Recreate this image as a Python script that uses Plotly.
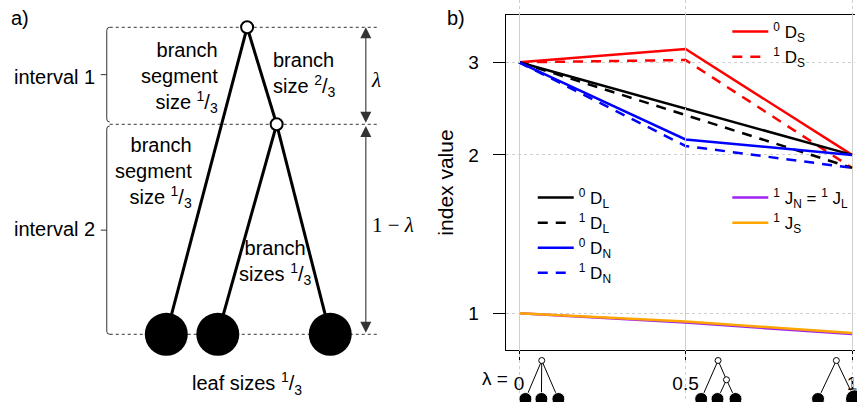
import plotly.graph_objects as go

W, H = 857, 402
FONT = "Liberation Sans, Arial, sans-serif"
SERIF = "Liberation Serif, DejaVu Serif, serif"

# ---------------- panel b data ----------------
lam = [0, 0.5, 1]
D0_S = [3.0, 3.18, 2.0]
D1_S = [3.0, 3.03, 1.89]
D0_L = [3.0, 2.45, 2.0]
D1_L = [3.0, 2.38, 1.89]
D0_N = [3.0, 2.14, 2.0]
D1_N = [3.0, 2.08, 1.89]
J1_NL = [1.0, 0.960, 0.913]
J1_S = [1.0, 0.965, 0.917]
x_ticks = [0, 0.5, 1]
x_tick_text = ["0", "0.5", "1"]
y_ticks = [1, 2, 3]
y_tick_text = ["1", "2", "3"]

# ---------------- panel a tree (diagram units: x horizontal, h = height) ----------------
lam_a = 0.316
leaf_x = [166.7, 218.3, 331.0]
root_x, root_h = 247.7, 1.0
inner_x, inner_h = 277.3, 1.0 - lam_a

# ---------------- mini trees under the lambda ticks ----------------
mini_lam = [0, 0.5, 1]
mini_leaf_off = [[0.019, 0.067, 0.118], [0.047, 0.096, 0.150], [-0.102, 0.008]]
mini_leaf_w = [[1/3, 1/3, 1/3], [1/3, 1/3, 1/3], [1/3, 2/3]]

fig = go.Figure()

# ---------- panel a ----------
def seg(x0, y0, x1, y1):
    return [x0, x1, None], [y0, y1, None]

tx, ty = [], []
for (a, b, c, d) in [(root_x, root_h, leaf_x[0], 0), (root_x, root_h, inner_x, inner_h),
                     (inner_x, inner_h, leaf_x[1], 0), (inner_x, inner_h, leaf_x[2], 0)]:
    sx, sy = seg(a, b, c, d)
    tx += sx; ty += sy
fig.add_trace(go.Scatter(x=tx, y=ty, mode="lines", line=dict(color="black", width=3),
                         showlegend=False, hoverinfo="skip", xaxis="x", yaxis="y"))
fig.add_trace(go.Scatter(x=leaf_x, y=[0, 0, 0], mode="markers",
                         marker=dict(size=43, color="black", opacity=1), showlegend=False,
                         hoverinfo="skip", xaxis="x", yaxis="y"))
fig.add_trace(go.Scatter(x=[root_x, inner_x], y=[root_h, inner_h], mode="markers",
                         marker=dict(size=12, color="white", opacity=1,
                                     line=dict(color="black", width=2)),
                         showlegend=False, hoverinfo="skip", xaxis="x", yaxis="y"))

# ---------- panel b lines ----------
RED, BLUE, PURPLE, ORANGE = "#FF0000", "#0000FF", "#A020F0", "#FFA500"
DASH = "10px,8px"
series = [
    (D0_S, RED, "solid", "<sup>0</sup> D<sub>S</sub>", "legend"),
    (D1_S, RED, DASH, "<sup>1</sup> D<sub>S</sub>", "legend"),
    (D0_L, "black", "solid", "<sup>0</sup> D<sub>L</sub>", "legend2"),
    (D1_L, "black", DASH, "<sup>1</sup> D<sub>L</sub>", "legend2"),
    (D0_N, BLUE, "solid", "<sup>0</sup> D<sub>N</sub>", "legend2"),
    (D1_N, BLUE, DASH, "<sup>1</sup> D<sub>N</sub>", "legend2"),
    (J1_NL, PURPLE, "solid", "<sup>1</sup> J<sub>N</sub> = <sup>1</sup> J<sub>L</sub>", "legend3"),
    (J1_S, ORANGE, "solid", "<sup>1</sup> J<sub>S</sub>", "legend3"),
]
for vals, col, dash, name, lg in series:
    fig.add_trace(go.Scatter(x=lam, y=vals, mode="lines", name=name, legend=lg,
                             line=dict(color=col, width=2.5, dash=dash),
                             hoverinfo="skip", xaxis="x2", yaxis="y2"))

# ---------- mini trees (x in lambda units, y in tree height) ----------
mx, my, lx, ly, ls, ox, oy = [], [], [], [], [], [], []
for L, offs, ws in zip(mini_lam, mini_leaf_off, mini_leaf_w):
    xs = [L + o for o in offs]
    rx = sum(xs) / len(xs)
    ox.append(rx); oy.append(1.0)
    if len(xs) == 3 and 0 < L < 1:
        ix = (xs[1] + xs[2]) / 2
        ih = 1 - L
        edges = [(rx, 1, xs[0], 0), (rx, 1, ix, ih), (ix, ih, xs[1], 0), (ix, ih, xs[2], 0)]
        ox.append(ix); oy.append(ih)
    else:
        edges = [(rx, 1, x, 0) for x in xs]
    for e in edges:
        sx, sy = seg(*e)
        mx += sx; my += sy
    for x, w in zip(xs, ws):
        lx.append(x); ly.append(0); ls.append(13 * (3 * w) ** 0.5)
fig.add_trace(go.Scatter(x=mx, y=my, mode="lines", line=dict(color="black", width=1),
                         showlegend=False, hoverinfo="skip", xaxis="x2", yaxis="y3"))
fig.add_trace(go.Scatter(x=lx, y=ly, mode="markers",
                         marker=dict(size=ls, color="black", opacity=1),
                         showlegend=False, hoverinfo="skip", xaxis="x2", yaxis="y3", cliponaxis=False))
fig.add_trace(go.Scatter(x=ox, y=oy, mode="markers",
                         marker=dict(size=6, color="white", opacity=1,
                                     line=dict(color="black", width=1)),
                         showlegend=False, hoverinfo="skip", xaxis="x2", yaxis="y3", cliponaxis=False))

# ---------- panel a decorations ----------
def Hh(py):
    return (334.3 - py) / 307.0

shapes = []
for h in [1.0, inner_h, 0.0]:
    shapes.append(dict(type="line", xref="x", yref="y", x0=110, x1=378, y0=h, y1=h,
                       line=dict(color="#333", width=1, dash="3px,3px"), layer="below"))
def brace(top, bot):
    mid = (top + bot) / 2
    p = (f"M110,{top} Q107,{top} 107,{top - 0.01} L107,{bot + 0.01} Q107,{bot} 110,{bot} "
         f"M107,{mid} L101,{mid}")
    return dict(type="path", xref="x", yref="y", path=p, line=dict(color="#333", width=1))
shapes.append(brace(1.0, Hh(122)))
shapes.append(brace(Hh(126), 0.0))

ann = []
def txt(x, y, s, size=20, xa="center", align="center", ref="x", **kw):
    d = dict(x=x, y=y, text=s, showarrow=False, xanchor=xa, yanchor="middle", align=align,
             font=dict(family=FONT, size=size, color="black"))
    if ref == "x":
        d.update(xref="x", yref="y")
    else:
        d.update(xref="paper", yref="paper")
    d.update(kw)
    ann.append(d)

frac13 = "<sup>1</sup>/<sub>3</sub>"
txt(20 / W, 1 - 18 / H, "a)", ref="paper")
txt(457 / W, 1 - 18 / H, "b)", ref="paper")
txt(97, Hh(77), "interval 1", xa="right")
txt(97, Hh(229), "interval 2", xa="right")
txt(221, Hh(77), "branch<br>segment<br>size " + frac13, xa="right", align="right")
txt(272, Hh(74), "branch<br>size <sup>2</sup>/<sub>3</sub>", xa="left", align="left")
txt(194, Hh(172), "branch<br>segment<br>size " + frac13, xa="right", align="right")
txt(276, Hh(262), "branch<br>sizes " + frac13)
txt(248, Hh(383), "leaf sizes " + frac13)
ann.append(dict(x=370, y=Hh(80), xref="x", yref="y", text="<i>λ</i>", showarrow=False,
                xanchor="left", font=dict(family=SERIF, size=21, color="black")))
ann.append(dict(x=371, y=Hh(225), xref="x", yref="y", text="1 − <i>λ</i>", showarrow=False,
                xanchor="left", font=dict(family=SERIF, size=21, color="black")))
for (ya, yb) in [(1.0, inner_h), (Hh(126), 0.0)]:
    ann.append(dict(x=366.7, y=ya, ax=366.7, ay=yb, xref="x", yref="y", axref="x", ayref="y",
                    text="", showarrow=True, arrowhead=2, arrowside="end+start",
                    arrowsize=2.0, arrowwidth=1.1, arrowcolor="#333", standoff=0, startstandoff=0))
txt(511 / W, 1 - 378 / H, "λ =", size=19, xa="right", ref="paper")

LEG = dict(xanchor="left", yanchor="top", bgcolor="rgba(0,0,0,0)", font=dict(size=17),
           tracegroupgap=0, itemwidth=36)
fig.update_layout(
    width=W, height=H, margin=dict(l=0, r=0, t=0, b=0),
    paper_bgcolor="white", plot_bgcolor="rgba(0,0,0,0)",
    font=dict(family=FONT, size=19, color="black"),
    shapes=shapes, annotations=ann,
    xaxis=dict(domain=[0, 0.5], range=[0, 428.5], visible=False, fixedrange=True),
    yaxis=dict(domain=[0, 1], range=[Hh(402), Hh(0)], visible=False, fixedrange=True),
    xaxis2=dict(domain=[507 / W, 1], range=[-0.0399, 1.009], anchor="y2",
                tickvals=x_ticks, ticktext=x_tick_text, ticks="outside", ticklen=10,
                tickcolor="black", tickwidth=1.2, showline=True, linecolor="black", linewidth=1.2,
                mirror=True, showgrid=True, gridcolor="#cfcfcf", griddash="dot", gridwidth=1,
                zeroline=False, ticklabelstandoff=6, tickfont=dict(size=19),
                ticklabeloverflow="allow"),
    yaxis2=dict(domain=[1 - 350 / H, 1 - 15 / H], type="log", range=[-0.0698, 0.567], anchor="x2",
                tickvals=y_ticks, ticktext=y_tick_text, ticks="outside", ticklen=12,
                tickcolor="black", tickwidth=1.2, showline=True, linecolor="black", linewidth=1.2,
                showgrid=True, gridcolor="#cfcfcf", griddash="dot", gridwidth=1, zeroline=False,
                ticklabelstandoff=10, tickfont=dict(size=19),
                title=dict(text="index value", font=dict(size=21), standoff=8)),
    yaxis3=dict(domain=[0, 1], range=[-3 / 38.5, 399 / 38.5], visible=False, anchor="x2",
                fixedrange=True),
    legend=dict(x=729 / W, y=1 - 14 / H, **LEG),
    legend2=dict(x=534 / W, y=1 - 180 / H, **LEG),
    legend3=dict(x=729 / W, y=1 - 180 / H, **LEG),
)

fig.write_html("out.html", config={"displayModeBar": False},
               post_script="document.body.style.margin='0';document.body.style.overflow='hidden';")
